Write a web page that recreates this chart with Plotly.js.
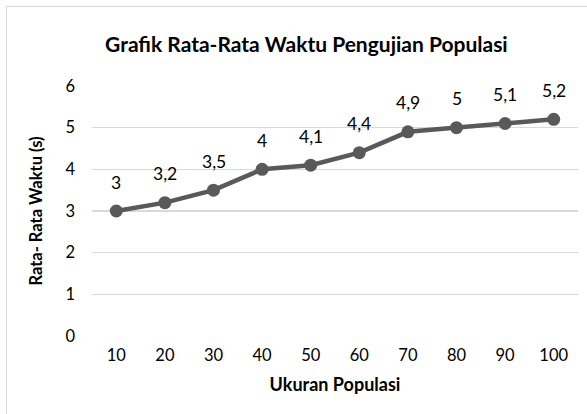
<!DOCTYPE html>
<html><head><meta charset="utf-8">
<script src="https://cdn.plot.ly/plotly-3.0.1.min.js"></script>
<style>
body{margin:0;padding:0;background:#fff;}
#chart{position:absolute;left:0;top:0;width:587px;height:414px;}
#frame{position:absolute;left:6px;top:6px;width:620px;height:440px;border:1.5px solid #d9d9d9;pointer-events:none;}
</style></head>
<body>
<div id="chart"></div>
<div id="frame"></div>
<script>
const categories = ["10","20","30","40","50","60","70","80","90","100"];
const values = [3, 3.2, 3.5, 4, 4.1, 4.4, 4.9, 5, 5.1, 5.2];
const labels = ["3","3,2","3,5","4","4,1","4,4","4,9","5","5,1","5,2"];
const yTicks = [0,1,2,3,4,5,6];

const font = "Lato, 'Open Sans', sans-serif";
const trace = {
  x: categories, y: values, type: 'scatter', mode: 'lines+markers',
  line: {color: '#595959', width: 4.5},
  marker: {color: '#595959', size: 13},
  hoverinfo: 'skip'
};
const annotations = categories.map((c, i) => ({
  x: i, y: values[i], xref: 'x', yref: 'y', text: labels[i],
  showarrow: false, yanchor: 'middle', yshift: 29,
  font: {family: font, size: 17.5, color: '#000'}
}));
const layout = {
  width: 587, height: 414,
  margin: {l: 92, r: 9, t: 86, b: 78},
  paper_bgcolor: '#fff', plot_bgcolor: '#fff',
  showlegend: false,
  title: {text: '<b>Grafik Rata-Rata Waktu Pengujian Populasi</b>', x: 0.522, xanchor: 'center', y: 0.893, yanchor: 'middle',
    font: {family: font, size: 21, color: '#000'}},
  xaxis: {type: 'category', range: [-0.5, 9.5], showgrid: false, zeroline: false, showline: false,
    ticks: '', ticklabelstandoff: 7, tickfont: {family: font, size: 16.5, color: '#000'},
    title: {text: '<b>Ukuran Populasi</b>', font: {family: font, size: 18, color: '#000'}, standoff: 14}},
  yaxis: {range: [0, 6], tickvals: yTicks, ticktext: yTicks.map(String), showgrid: true, gridcolor: '#d9d9d9', gridwidth: 1.5,
    zeroline: false, showline: false, ticks: '', ticklabelstandoff: 16,
    tickfont: {family: font, size: 16.5, color: '#000'},
    title: {text: '<b>Rata- Rata Waktu (s)</b>', font: {family: font, size: 16.5, color: '#000'}, standoff: 18}},
  annotations: annotations
};
Plotly.newPlot('chart', [trace], layout, {displayModeBar: false, staticPlot: true});
</script>
</body></html>
